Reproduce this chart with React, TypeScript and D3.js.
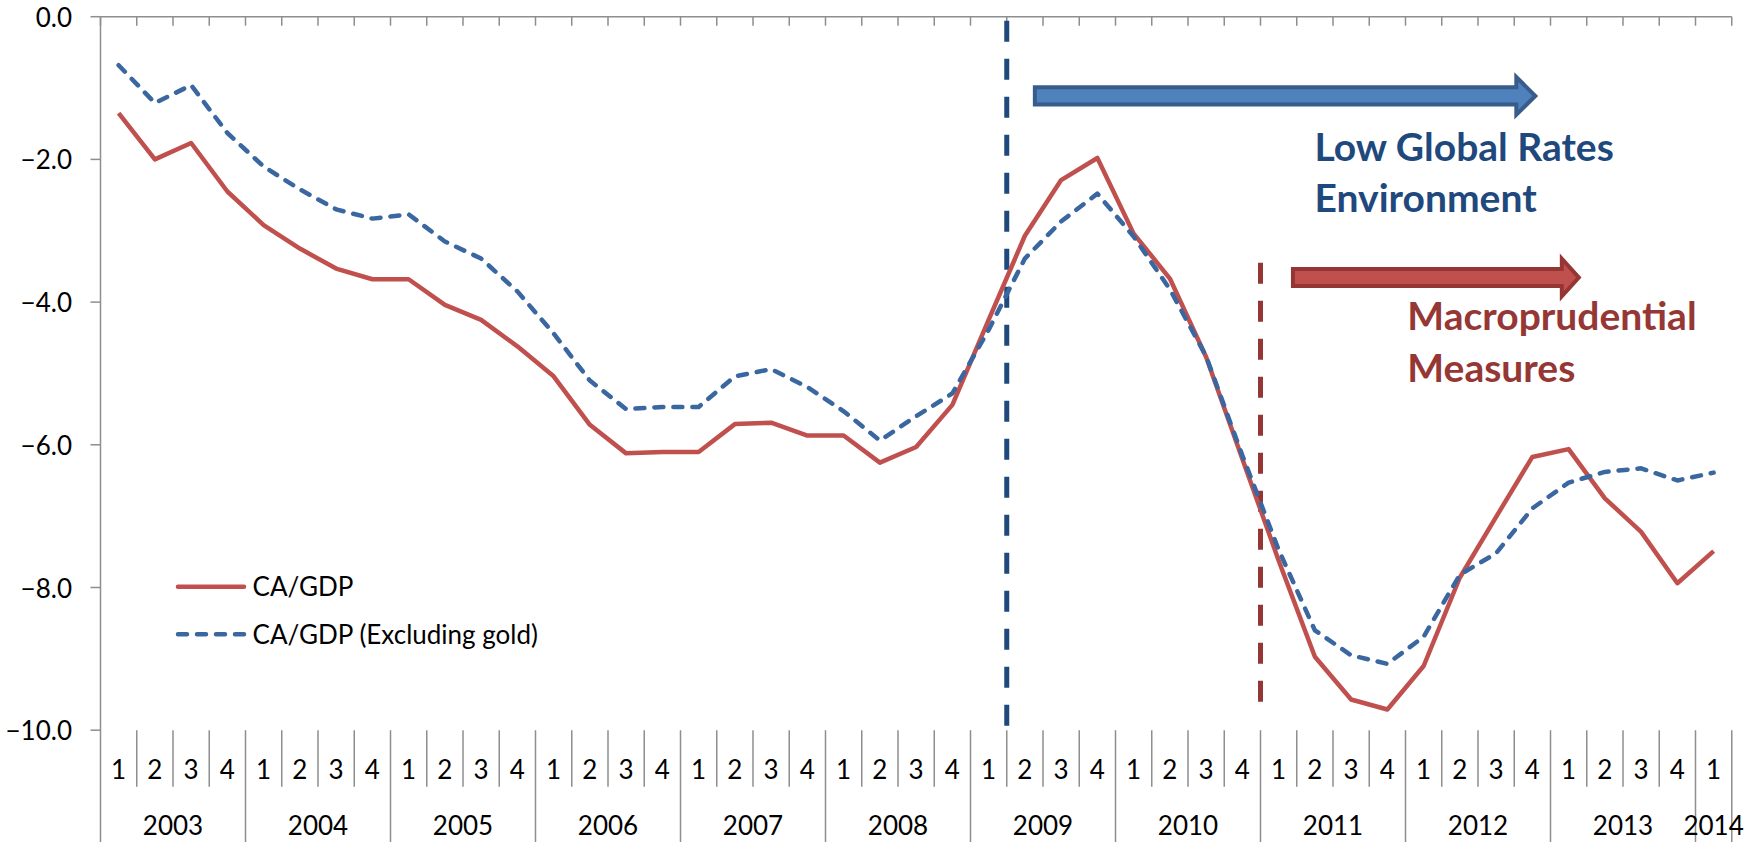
import React from 'react';
import * as d3 from 'd3';

// ---- data ----
const years = ['2003', '2004', '2005', '2006', '2007', '2008', '2009', '2010', '2011', '2012', '2013', '2014'];
const quartersPerYear = [4, 4, 4, 4, 4, 4, 4, 4, 4, 4, 4, 1];
const quarterLabels = ['1', '2', '3', '4'];

const caGdp = [
  -1.35, -2.0, -1.77, -2.45,
  -2.92, -3.25, -3.53, -3.68,
  -3.68, -4.04, -4.25, -4.62,
  -5.04, -5.72, -6.12, -6.1,
  -6.1, -5.71, -5.69, -5.87,
  -5.87, -6.25, -6.03, -5.44,
  -4.25, -3.07, -2.29, -1.98,
  -3.04, -3.67, -4.77, -6.2,
  -7.62, -8.97, -9.57, -9.71,
  -9.1, -7.86, -7.01, -6.17,
  -6.06, -6.75, -7.22, -7.94,
  -7.49,
];

const caGdpExGold = [
  -0.68, -1.21, -0.96, -1.63,
  -2.1, -2.42, -2.7, -2.83,
  -2.77, -3.15, -3.39, -3.85,
  -4.44, -5.1, -5.5, -5.47,
  -5.47, -5.04, -4.94, -5.19,
  -5.53, -5.94, -5.6, -5.28,
  -4.39, -3.39, -2.87, -2.48,
  -3.08, -3.82, -4.76, -6.15,
  -7.47, -8.6, -8.95, -9.07,
  -8.69, -7.82, -7.52, -6.89,
  -6.53, -6.38, -6.33, -6.5,
  -6.39,
];

const yTicks = [0, -2, -4, -6, -8, -10];
const seriesNames = ['CA/GDP', 'CA/GDP (Excluding gold)'];

// event markers (category boundary index, value range)
const markerBoundaries = [25, 32];
const markerFrom = [0, -3.45];
const markerTo = [-10, -9.8];

// arrows (category units, value)
const arrowStart = [25.72, 32.84];
const arrowTip = [39.65, 40.85];
const arrowValue = [-1.11, -3.655];

const noteLines = [
  ['Low Global Rates', 'Environment'],
  ['Macroprudential', 'Measures'],
];
const noteX = [33.49, 36.05];
const noteY = [[-2.018, -2.733], [-4.391, -5.116]];

const FONT = 'Lato, "Open Sans", sans-serif';

export default function App() {
  const W = 1758;
  const H = 842;
  const x0 = 100.5;
  const x1 = 1731.75;
  const n = caGdp.length;

  const categories: { year: string; q: string }[] = [];
  years.forEach((yr, yi) => {
    for (let k = 0; k < quartersPerYear[yi]; k++) categories.push({ year: yr, q: quarterLabels[k] });
  });

  const xb = d3.scaleBand<number>().domain(d3.range(n)).range([x0, x1]).padding(0);
  const xc = d3.scaleLinear().domain([0, n]).range([x0, x1]);
  const y = d3.scaleLinear().domain([-10, 0]).range([730.2, 16.7]);
  const cx = (i: number) => (xb(i) as number) + xb.bandwidth() / 2;

  const line = d3
    .line<number>()
    .x((_, i) => cx(i))
    .y((d) => y(d));

  const axisColor = '#8E8E8E';
  const yTop = y(0);
  const yBottom = y(-10);

  // year groups
  const yearGroups: { year: string; start: number; end: number }[] = [];
  let acc = 0;
  years.forEach((yr, yi) => {
    yearGroups.push({ year: yr, start: acc, end: acc + quartersPerYear[yi] });
    acc += quartersPerYear[yi];
  });
  const yearBoundaries = new Set<number>(yearGroups.map((g) => g.start).concat([n]));

  const arrowPath = (xs: number, xt: number, yc: number, bodyHalf: number, headHalf: number, headLen: number) => {
    const xb2 = xt - headLen;
    return [
      `M${xs},${yc - bodyHalf}`,
      `L${xb2},${yc - bodyHalf}`,
      `L${xb2},${yc - headHalf}`,
      `L${xt},${yc}`,
      `L${xb2},${yc + headHalf}`,
      `L${xb2},${yc + bodyHalf}`,
      `L${xs},${yc + bodyHalf}`,
      'Z',
    ].join(' ');
  };

  const arrowFill = ['#4F81BD', '#C0504D'];
  const arrowStroke = ['#385D8A', '#943634'];
  const arrowHeadLen = [19, 17];
  const markerColor = ['#1F497D', '#943634'];
  const noteColor = ['#1F497D', '#953735'];

  return (
    <svg
      width={W}
      height={H}
      style={{ position: 'absolute', left: 0, top: 0, background: '#fff' }}
      fontFamily={FONT}
    >
      <rect x={0} y={0} width={W} height={H} fill="#fff" />

      {/* top category axis with tick marks */}
      <line x1={x0} x2={x1} y1={yTop} y2={yTop} stroke={axisColor} strokeWidth={1.5} />
      {d3.range(n + 1).map((i) => (
        <line key={`tt${i}`} x1={xc(i)} x2={xc(i)} y1={yTop} y2={yTop + 9} stroke={axisColor} strokeWidth={1.5} />
      ))}

      {/* value axis */}
      <line x1={x0} x2={x0} y1={yTop} y2={H} stroke={axisColor} strokeWidth={1.5} />
      {yTicks.map((t) => (
        <g key={`yt${t}`}>
          <line x1={x0 - 10} x2={x0} y1={y(t)} y2={y(t)} stroke={axisColor} strokeWidth={1.5} />
          <text x={72} y={y(t)} textAnchor="end" dominantBaseline="central" fontSize={26} fill="#000">
            {d3.format('.1f')(t)}
          </text>
        </g>
      ))}

      {/* bottom category labels */}
      {d3.range(1, n + 1).map((i) => (
        <line
          key={`sep${i}`}
          x1={xc(i)}
          x2={xc(i)}
          y1={yBottom}
          y2={yearBoundaries.has(i) ? H : 786.7}
          stroke={axisColor}
          strokeWidth={1.5}
        />
      ))}
      {categories.map((c, i) => (
        <text key={`q${i}`} x={cx(i)} y={769} textAnchor="middle" dominantBaseline="central" fontSize={26} fill="#000">
          {c.q}
        </text>
      ))}
      {yearGroups.map((g) => (
        <text
          key={`y${g.year}`}
          x={(cx(g.start) + cx(g.end - 1)) / 2}
          y={825}
          textAnchor="middle"
          dominantBaseline="central"
          fontSize={26}
          fill="#000"
        >
          {g.year}
        </text>
      ))}

      {/* event marker lines */}
      {markerBoundaries.map((b, k) => (
        <line
          key={`m${k}`}
          x1={xc(b)}
          x2={xc(b)}
          y1={y(markerFrom[k]) + (k === 0 ? 4 : 0)}
          y2={y(markerTo[k])}
          stroke={markerColor[k]}
          strokeWidth={5}
          strokeDasharray="21 17"
        />
      ))}

      {/* series */}
      <path d={line(caGdp) || ''} fill="none" stroke="#C0504D" strokeWidth={4.5} strokeLinejoin="round" />
      <path
        d={line(caGdpExGold) || ''}
        fill="none"
        stroke="#3A67A0"
        strokeWidth={4.5}
        strokeDasharray="9 10"
        strokeLinecap="round"
        strokeLinejoin="round"
      />

      {/* arrows */}
      {arrowStart.map((s, k) => (
        <path
          key={`a${k}`}
          d={arrowPath(xc(s) + 2, xc(arrowTip[k]) - 2.5, y(arrowValue[k]), 8.6, 18.8, arrowHeadLen[k])}
          fill={arrowFill[k]}
          stroke={arrowStroke[k]}
          strokeWidth={4}
          strokeLinejoin="miter"
        />
      ))}

      {/* notes */}
      {noteLines.map((lines, k) =>
        lines.map((t, j) => (
          <text key={`n${k}${j}`} x={xc(noteX[k])} y={y(noteY[k][j])} fontSize={39} fontWeight="bold" fill={noteColor[k]}>
            {t}
          </text>
        ))
      )}

      {/* legend */}
      <line x1={178} x2={244} y1={586.7} y2={586.7} stroke="#C0504D" strokeWidth={4.5} strokeLinecap="round" />
      <text x={252.6} y={586} dominantBaseline="central" fontSize={26} fill="#000">
        {seriesNames[0]}
      </text>
      <line
        x1={178}
        x2={244}
        y1={634.3}
        y2={634.3}
        stroke="#3A67A0"
        strokeWidth={4.5}
        strokeDasharray="9 10"
        strokeLinecap="round"
      />
      <text x={252.6} y={633.6} dominantBaseline="central" fontSize={26} fill="#000">
        {seriesNames[1]}
      </text>
    </svg>
  );
}
